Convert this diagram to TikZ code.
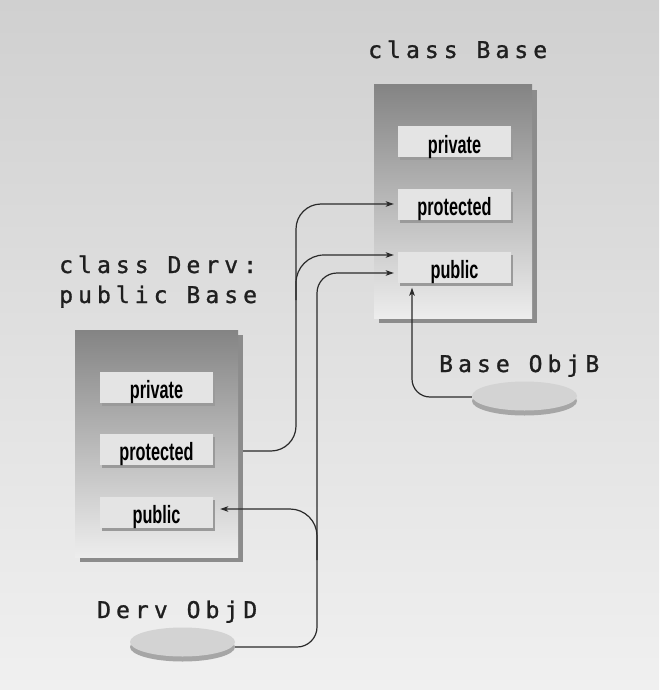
\documentclass[tikz,border=0pt]{standalone}
\usepackage{fontspec}
\usetikzlibrary{shapes.geometric,shadows,arrows.meta,calc}
\newfontfamily\monolbl[LetterSpace=22,FakeBold=1.2]{DejaVu Sans Mono}
\newfontfamily\condb[FakeStretch=0.65]{Liberation Sans}
\definecolor{bgtop}{HTML}{D0D0D0}
\definecolor{bgbot}{HTML}{F0F0F0}
\definecolor{boxtop}{HTML}{848484}
\definecolor{boxbot}{HTML}{EDEDED}
\definecolor{boxshd}{HTML}{8C8C8C}
\definecolor{infill}{HTML}{E4E4E4}
\definecolor{inshd}{HTML}{9A9A9A}
\definecolor{ellfill}{HTML}{D3D3D3}
\definecolor{ellrim}{HTML}{A6A6A6}
\definecolor{linec}{HTML}{2A2A2A}
\tikzset{
  bigbox/.style={rectangle, inner sep=0pt, top color=boxtop, bottom color=boxbot,
    drop shadow={shadow xshift=5pt, shadow yshift=-5pt, fill=boxshd, opacity=1}},
  slot/.style={rectangle, inner sep=0pt, fill=infill, minimum width=113pt, minimum height=31pt,
    text height=27pt, text depth=4pt,
    font=\condb\bfseries\fontsize{25}{29}\selectfont,
    drop shadow={shadow xshift=2pt, shadow yshift=-3pt, fill=inshd, opacity=1}},
  obj/.style={ellipse, inner sep=0pt, fill=ellfill, minimum width=105pt, minimum height=29pt,
    drop shadow={shadow xshift=0pt, shadow yshift=-5pt, fill=ellrim, opacity=1}},
  lbl/.style={anchor=base west, inner sep=0pt, text=black!88, font=\monolbl\fontsize{23}{27}\selectfont},
  conn/.style={draw=linec, line width=1.2pt, -{Stealth[length=8pt,width=5.5pt,inset=2pt]}}
}
\begin{document}
\begin{tikzpicture}[x=1pt,y=-1pt]
\fill[top color=bgtop,bottom color=bgbot] (0,0) rectangle (659,690);
\useasboundingbox (0,0) rectangle (659,690);

% big boxes
\node[bigbox, minimum width=158pt, minimum height=233pt] (bbox) at (453,201.5) {};
\node[bigbox, minimum width=163pt, minimum height=227pt] (dbox) at (156.5,443.5) {};

% slots
\node[slot] (bpriv) at (454.5,141.5) {private};
\node[slot] (bprot) at (454.5,204) {protected};
\node[slot] (bpub)  at (454.5,267) {public};
\node[slot] (dpriv) at (156.5,387) {private};
\node[slot] (dprot) at (156.5,449) {protected};
\node[slot] (dpub)  at (156.5,512) {public};

% objects
\node[obj] (objD) at (182.5,642) {};
\node[obj] (objB) at (524.5,396) {};

% labels
\node[lbl] (lbase) at (368,58) {class Base};
\node[lbl] (lderva) at (59,273) {class Derv:};
\node[lbl] (ldervb) at (59,303) {public Base};
\node[lbl] (lobjb) at (439,372) {Base ObjB};
\node[lbl] (lobjd) at (97,618) {Derv ObjD};

% helper coordinates
\coordinate (xA) at (296,0);
\coordinate (xB) at (317,0);
\coordinate (xC) at (412,0);
\coordinate (aS) at (243,451);
\coordinate (aJ) at (296,300);
\coordinate (bJ) at (317,560);
\coordinate (bS) at ([yshift=-5pt]objD.east);
\coordinate (cS) at ([yshift=-1pt]objB.west);
\coordinate (bprotIn) at ([xshift=-4pt]bprot.west);
\coordinate (bpubA) at ([xshift=-4pt,yshift=12pt]bpub.west);
\coordinate (bpubB) at ([xshift=-4pt,yshift=-6pt]bpub.west);
\coordinate (dpubIn) at ([xshift=7pt,yshift=3pt]dpub.east);
\coordinate (bpubUp) at ($(xC |- bpub.south)+(0,5)$);

% connectors
\draw[conn, rounded corners=25pt] (aS) -- (xA |- aS) -- (xA |- bprotIn) -- (bprotIn);
\draw[conn, rounded corners=28pt] (aJ) -- (xA |- bpubA) -- (bpubA);
\draw[conn, rounded corners=20pt] (bS) -- (xB |- bS) -- (xB |- bpubB) -- (bpubB);
\draw[conn, rounded corners=27pt] (bJ) -- (xB |- dpubIn) -- (dpubIn);
\draw[conn, rounded corners=18pt] (cS) -- (xC |- cS) -- (bpubUp);
\end{tikzpicture}
\end{document}
